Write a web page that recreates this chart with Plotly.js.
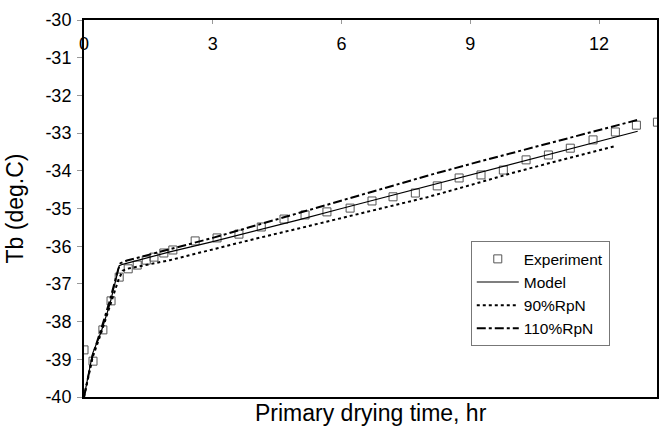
<!DOCTYPE html>
<html>
<head>
<meta charset="utf-8">
<script src="https://cdn.plot.ly/plotly-3.0.1.min.js"></script>
<style>html,body{margin:0;padding:0;background:#fff;}#chart{width:659px;height:431px;}</style>
</head>
<body>
<div id="chart"></div>
<script>
// Experiment data
const expTime = [0.0, 0.21, 0.44, 0.63, 0.82, 1.03, 1.24, 1.45, 1.63, 1.86, 2.07, 2.59, 3.10, 3.61, 4.13, 4.66, 5.15, 5.66, 6.20, 6.71, 7.20, 7.72, 8.23, 8.74, 9.25, 9.77, 10.30, 10.82, 11.33, 11.86, 12.38, 12.87, 13.36];
const expTb = [-38.75, -39.05, -38.22, -37.45, -36.82, -36.60, -36.50, -36.37, -36.29, -36.18, -36.10, -35.86, -35.78, -35.68, -35.49, -35.28, -35.17, -35.09, -34.99, -34.80, -34.69, -34.59, -34.40, -34.19, -34.11, -33.98, -33.71, -33.58, -33.40, -33.18, -32.97, -32.79, -32.71];

// Model
const modelTime = [0, 0.1, 0.2, 0.4, 0.6, 0.75, 0.82, 0.9, 1.5, 2, 3, 4, 5, 6, 7, 8, 9, 10, 11, 12, 12.9];
const modelTb = [-40, -39.4, -38.85, -38.27, -37.55, -36.85, -36.52, -36.48, -36.3, -36.15, -35.88, -35.6, -35.3, -35.0, -34.7, -34.4, -34.1, -33.8, -33.5, -33.2, -32.95];

// 90% RpN
const rp90Time = [0, 0.2, 0.4, 0.6, 0.8, 0.9, 1, 2, 3, 4, 5, 6, 7, 8, 9, 10, 11, 12, 12.35];
const rp90Tb = [-40, -38.95, -38.3, -37.6, -36.9, -36.65, -36.6, -36.37, -36.08, -35.8, -35.53, -35.25, -34.97, -34.7, -34.38, -34.05, -33.75, -33.45, -33.35];

// 110% RpN
const rp110Time = [0, 0.2, 0.4, 0.6, 0.8, 0.85, 1, 2, 3, 4, 5, 6, 7, 8, 9, 10, 11, 12, 12.9];
const rp110Tb = [-40, -38.9, -38.2, -37.45, -36.6, -36.45, -36.38, -36.08, -35.78, -35.45, -35.12, -34.8, -34.47, -34.13, -33.82, -33.52, -33.22, -32.92, -32.65];

const xTicks = [0, 3, 6, 9, 12];
const yTicks = [-40, -39, -38, -37, -36, -35, -34, -33, -32, -31, -30];

const FONT = 'Liberation Sans, Arial, sans-serif';

const traces = [
  {x: expTime, y: expTb, name: 'Experiment', type: 'scatter', mode: 'markers', legendgroup: 'a',
   marker: {symbol: 'square-open', size: 8, color: '#555', line: {width: 1, color: '#555'}}},
  {x: modelTime, y: modelTb, name: 'Model', type: 'scatter', mode: 'lines', legendgroup: 'b',
   line: {color: '#000', width: 1.2}},
  {x: rp90Time, y: rp90Tb, name: '90%RpN', type: 'scatter', mode: 'lines', legendgroup: 'c',
   line: {color: '#000', width: 2, dash: 'dot'}},
  {x: rp110Time, y: rp110Tb, name: '110%RpN', type: 'scatter', mode: 'lines', legendgroup: 'd',
   line: {color: '#000', width: 2, dash: 'dashdot'}}
];

const layout = {
  width: 659, height: 431,
  margin: {l: 84, r: 2, t: 20, b: 34},
  paper_bgcolor: '#fff', plot_bgcolor: '#fff',
  font: {family: FONT, color: '#000', size: 18},
  showlegend: true,
  legend: {x: 0.675, y: 0.413, xanchor: 'left', yanchor: 'top', bgcolor: '#fff',
           bordercolor: '#777', borderwidth: 1, font: {family: FONT, size: 15.5, color: '#000'},
           tracegroupgap: 0, itemwidth: 42},
  xaxis: {range: [0, 13.35], side: 'top', tickvals: xTicks, ticktext: xTicks.map(String),
          ticks: 'inside', ticklen: 4, tickcolor: '#999', ticklabelstandoff: -39,
          showline: true, linecolor: '#000', linewidth: 2, mirror: true,
          showgrid: false, zeroline: false, tickfont: {family: FONT, size: 18}},
  yaxis: {range: [-40, -30], tickvals: yTicks, ticktext: yTicks.map(String),
          ticks: 'outside', ticklen: 5, tickcolor: '#999', ticklabelstandoff: 2,
          showline: true, linecolor: '#000', linewidth: 2, mirror: true,
          showgrid: false, zeroline: false, tickfont: {family: FONT, size: 18},
          title: {text: 'Tb (deg.C)', font: {family: FONT, size: 23}, standoff: 15}},
  annotations: [
    {text: 'Primary drying time, hr', xref: 'paper', yref: 'paper', x: 0.5, y: -0.042,
     xanchor: 'center', yanchor: 'middle', showarrow: false, font: {family: FONT, size: 23}}
  ]
};

Plotly.newPlot('chart', traces, layout, {displayModeBar: false, staticPlot: true});
</script>
</body>
</html>
